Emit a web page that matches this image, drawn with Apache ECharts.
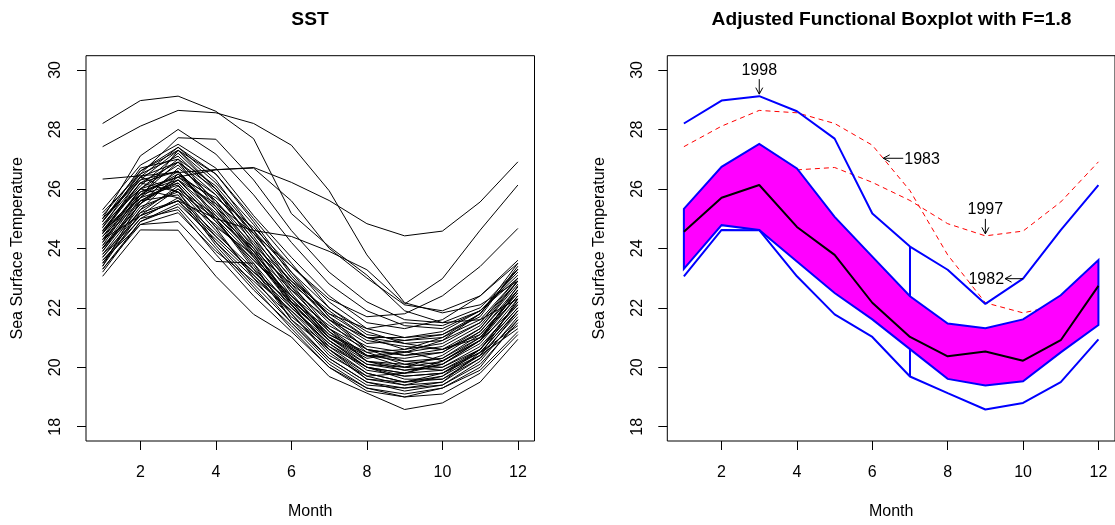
<!DOCTYPE html>
<html><head><meta charset="utf-8">
<script src="https://cdn.jsdelivr.net/npm/echarts@6/dist/echarts.min.js"></script>
<style>html,body{margin:0;padding:0;background:#fff}#c{width:1115px;height:525px}</style>
</head><body><div id="c"></div>
<script>
// ---------------- data ----------------
const months = [1,2,3,4,5,6,7,8,9,10,11,12];
const xTicks = [2,4,6,8,10,12];
const yTicks = [18,20,22,24,26,28,30];

// notable years
const sst1998 = [28.2, 28.97, 29.12, 28.61, 27.69, 25.17, 24.06, 23.1, 21.9, 21.5, 21.6, 22.3];
const sst1983 = [27.42, 28.11, 28.64, 28.56, 28.2, 27.47, 25.94, 23.78, 22.17, 21.83, 22.1, 22.9];
const sst1997 = [24.5, 25.9, 26.4, 26.64, 26.72, 26.22, 25.61, 24.83, 24.42, 24.58, 25.56, 26.91];
const sst1982 = [24.3, 25.1, 25.6, 25.0, 24.6, 24.4, 23.9, 23.28, 22.13, 22.98, 24.61, 26.13];

// remaining years
const sstOther = [
  [26.33, 26.44, 26.55, 26.65, 26.7, 25.6, 24.0, 23.0, 22.1, 21.9, 22.4, 23.5],
  [25.0, 27.11, 28.0, 27.17, 25.8, 24.2, 22.8, 21.9, 21.4, 21.3, 21.9, 23.0],
  [24.9, 26.5, 27.72, 27.67, 26.3, 24.6, 23.2, 22.2, 21.6, 21.5, 22.0, 23.3],
  [24.0, 25.5, 26.3, 25.5, 24.5, 23.4, 22.3, 21.7, 21.8, 22.4, 23.39, 24.67],
  [24.56, 25.7, 26.13, 24.72, 23.78, 22.17, 21.02, 20.37, 20.53, 20.22, 20.91, 22.74],
  [23.06, 24.62, 24.61, 23.06, 21.78, 21.02, 19.69, 19.13, 18.58, 18.8, 19.5, 20.94],
  [24.2, 25.8, 26.5, 25.3, 23.9, 22.3, 21.0, 20.1, 19.9, 20.1, 20.8, 22.3],
  [23.5, 25.3, 26.0, 24.6, 23.1, 21.8, 20.5, 19.6, 19.5, 19.7, 20.4, 21.8],
  [24.8, 26.3, 27.3, 26.2, 24.8, 23.1, 21.7, 20.6, 20.4, 20.6, 21.3, 22.8],
  [25.1, 26.6, 27.4, 26.5, 25.0, 23.5, 22.0, 21.1, 20.9, 21.0, 21.6, 23.0],
  [23.8, 25.4, 25.9, 24.2, 22.8, 21.5, 20.2, 19.4, 19.3, 19.4, 20.1, 21.5],
  [24.4, 26.0, 26.8, 25.6, 24.2, 22.6, 21.3, 20.4, 20.2, 20.3, 21.0, 22.6],
  [23.3, 24.9, 25.4, 24.0, 22.6, 21.4, 20.1, 19.3, 19.1, 19.3, 19.9, 21.2],
  [24.6, 26.2, 25.9, 25.0, 23.7, 22.4, 21.4, 20.7, 20.5, 20.7, 21.4, 22.9],
  [25.3, 26.8, 27.5, 26.7, 25.1, 23.7, 22.4, 21.5, 21.3, 21.6, 22.4, 23.6],
  [23.3, 24.8, 24.9, 23.56, 23.5, 21.6, 20.6, 19.6, 19.4, 19.5, 20.5, 21.4],
  [24.0, 25.6, 26.2, 24.9, 23.5, 22.0, 20.8, 20.0, 19.8, 19.9, 20.6, 22.0],
  [24.7, 26.2, 26.9, 25.8, 24.3, 22.9, 21.6, 20.8, 20.9, 21.1, 21.8, 23.3],
  [23.7, 25.1, 25.6, 24.4, 23.2, 22.0, 20.9, 20.1, 20.0, 20.2, 20.9, 22.4],
  [24.9, 26.7, 27.0, 25.5, 23.9, 22.2, 20.9, 20.0, 19.7, 19.8, 20.5, 21.9],
  [23.9, 25.5, 26.4, 25.4, 24.1, 22.9, 21.9, 21.0, 20.8, 20.9, 21.5, 22.9],
  [24.3, 25.6, 25.8, 24.1, 22.7, 21.3, 20.0, 19.2, 19.0, 19.3, 20.0, 21.6],
  [23.6, 25.0, 25.7, 24.8, 23.6, 22.3, 21.1, 20.4, 20.3, 20.5, 21.2, 22.6],
  [24.5, 26.4, 27.4, 26.3, 24.6, 22.8, 21.3, 20.2, 19.9, 20.0, 20.7, 22.1],
  [25.0, 26.3, 26.6, 25.1, 23.8, 22.6, 21.6, 21.0, 21.0, 21.2, 21.9, 23.1],
  [23.4, 25.2, 26.1, 24.7, 23.0, 21.5, 20.3, 19.5, 19.2, 19.4, 20.2, 21.7],
  [24.1, 25.9, 26.3, 25.2, 24.0, 22.7, 21.5, 20.5, 20.1, 20.0, 20.6, 22.2],
  [24.6, 26.1, 27.2, 26.0, 24.4, 22.7, 21.2, 20.2, 20.0, 20.4, 21.2, 22.7],
  [23.2, 24.9, 25.5, 24.3, 23.1, 21.9, 20.8, 19.9, 19.7, 19.8, 20.4, 21.3],
  [24.8, 26.0, 26.4, 25.7, 24.7, 23.4, 22.2, 21.3, 21.0, 21.1, 21.7, 23.4],
  [23.9, 25.7, 26.6, 25.3, 23.7, 22.1, 20.7, 19.8, 19.5, 19.8, 20.6, 22.0],
  [24.3, 26.0, 25.7, 24.5, 23.3, 22.1, 21.0, 20.2, 20.1, 20.3, 21.1, 22.5],
  [25.2, 26.5, 27.1, 25.9, 24.5, 23.0, 21.8, 21.3, 21.5, 21.4, 21.9, 23.2],
  [23.5, 25.0, 25.3, 23.8, 22.4, 21.2, 20.0, 19.3, 19.0, 19.1, 19.8, 21.1],
  [24.0, 25.5, 26.7, 25.8, 24.3, 22.5, 21.0, 20.3, 20.5, 20.9, 21.8, 23.3],
  [24.6, 25.8, 26.2, 24.9, 23.6, 22.4, 21.2, 20.4, 20.0, 19.9, 20.5, 21.9],
  [23.7, 25.3, 26.5, 25.6, 24.0, 22.2, 20.9, 20.0, 19.6, 19.6, 20.4, 22.3],
  [24.2, 26.0, 27.0, 26.1, 24.6, 23.2, 22.0, 21.2, 20.8, 20.6, 21.0, 22.4],
  [24.9, 26.4, 25.9, 24.4, 23.2, 22.2, 21.3, 20.6, 20.4, 20.5, 21.3, 22.9],
  [23.4, 25.6, 26.3, 25.0, 23.4, 21.8, 20.4, 19.7, 19.8, 20.2, 21.0, 22.4],
  [24.4, 25.7, 27.3, 26.5, 24.9, 23.2, 21.7, 20.9, 20.7, 20.6, 21.1, 22.5],
  [24.1, 25.2, 25.6, 24.2, 23.0, 21.9, 20.6, 19.8, 19.5, 19.6, 20.3, 21.6],
  [25.0, 26.4, 26.9, 25.4, 23.8, 22.1, 20.6, 19.7, 19.4, 19.7, 20.6, 22.2],
  [23.8, 25.1, 26.0, 25.1, 23.9, 22.8, 21.8, 21.0, 20.6, 20.8, 21.5, 23.0],
  [24.5, 26.2, 26.6, 25.0, 23.3, 21.6, 20.3, 19.5, 19.3, 19.5, 20.3, 21.9],
  [24.0, 25.8, 26.9, 26.0, 24.5, 23.0, 21.6, 20.6, 20.2, 20.1, 20.9, 22.6],
  [23.6, 24.8, 25.2, 23.9, 22.9, 21.7, 20.7, 20.0, 19.8, 20.1, 20.9, 22.1],
  [24.7, 26.6, 27.3, 26.0, 24.1, 22.4, 21.1, 20.5, 20.6, 21.0, 21.8, 23.5]
];

// functional boxplot summaries (right panel)
const fbMedian    = [24.56, 25.7, 26.13, 24.72, 23.78, 22.17, 21.02, 20.37, 20.53, 20.22, 20.91, 22.74];
const bandUpper   = [25.33, 26.74, 27.51, 26.69, 25.06, 23.72, 22.39, 21.47, 21.31, 21.61, 22.42, 23.61];
const bandLower   = [23.31, 24.78, 24.62, 23.56, 22.5, 21.61, 20.61, 19.61, 19.39, 19.53, 20.5, 21.42];
const whiskerHi   = [28.2, 28.97, 29.12, 28.61, 27.69, 25.17, 24.06, 23.28, 22.13, 22.98, 24.61, 26.13];
const whiskerLo   = [23.06, 24.62, 24.61, 23.06, 21.78, 21.02, 19.69, 19.13, 18.58, 18.8, 19.5, 20.94];
const outlierCurves = [sst1983, sst1997];

// annotation labels
const annoLabels = ['1998', '1983', '1997', '1982'];
const annoMonths = [3, 6.29, 9, 10];
const annoValues = [whiskerHi[2], 27.03, sst1997[8], sst1982[9]];
const annoKinds  = ['down', 'right', 'down', 'left'];

// ---------------- chart ----------------
const FONT = '"Liberation Sans", Arial, Helvetica, sans-serif';
const chart = echarts.init(document.getElementById('c'), null, {renderer: 'canvas'});
const toPts = arr => months.map((m, i) => [m, arr[i]]);

function xAxisCfg(gi) {
  return {
    type: 'value', gridIndex: gi, min: 0.56, max: 12.44,
    axisLine: {show: false}, splitLine: {show: false},
    axisTick: {show: true, inside: false, length: 9, customValues: xTicks, lineStyle: {color: '#000', width: 1}},
    axisLabel: {customValues: xTicks, margin: 24, fontSize: 16, color: '#000', fontFamily: FONT},
    name: 'Month', nameLocation: 'middle', nameGap: 63,
    nameTextStyle: {fontSize: 16, color: '#000', fontFamily: FONT}
  };
}
function yAxisCfg(gi) {
  return {
    type: 'value', gridIndex: gi, min: 17.52, max: 30.48,
    axisLine: {show: false}, splitLine: {show: false},
    axisTick: {show: true, inside: false, length: 9, customValues: yTicks, lineStyle: {color: '#000', width: 1}},
    axisLabel: {customValues: yTicks, rotate: 90, margin: 22, fontSize: 16, color: '#000', fontFamily: FONT},
    name: 'Sea Surface Temperature', nameLocation: 'middle', nameGap: 60,
    nameTextStyle: {fontSize: 16, color: '#000', fontFamily: FONT}
  };
}

const series = [];
const leftCurves = [sst1998, sst1983, sst1997, sst1982].concat(sstOther);
leftCurves.forEach(c => series.push({
  type: 'line', xAxisIndex: 0, yAxisIndex: 0, data: toPts(c), symbol: 'none',
  lineStyle: {color: '#000', width: 1}, z: 2, silent: true
}));

outlierCurves.forEach(c => series.push({
  type: 'line', xAxisIndex: 1, yAxisIndex: 1, data: toPts(c), symbol: 'none',
  lineStyle: {color: '#ff0000', width: 1, type: [5, 4]}, z: 2, silent: true
}));

// central region polygon
series.push({
  type: 'custom', xAxisIndex: 1, yAxisIndex: 1, z: 3, silent: true,
  data: [[1, bandUpper[0]]],
  renderItem: function (params, api) {
    const pts = [];
    months.forEach((m, i) => pts.push(api.coord([m, bandUpper[i]])));
    for (let i = months.length - 1; i >= 0; i--) pts.push(api.coord([months[i], bandLower[i]]));
    return {type: 'polygon', shape: {points: pts}, style: {fill: '#ff00ff', stroke: '#0000ff', lineWidth: 2}};
  }
});

[whiskerHi, whiskerLo].forEach(c => series.push({
  type: 'line', xAxisIndex: 1, yAxisIndex: 1, data: toPts(c), symbol: 'none',
  lineStyle: {color: '#0000ff', width: 2}, z: 4, silent: true
}));
// vertical whisker segments at the middle month
const midIdx = 6;
series.push({type: 'line', xAxisIndex: 1, yAxisIndex: 1, symbol: 'none', z: 4, silent: true,
  data: [[months[midIdx], whiskerHi[midIdx]], [months[midIdx], bandUpper[midIdx]]],
  lineStyle: {color: '#0000ff', width: 2}});
series.push({type: 'line', xAxisIndex: 1, yAxisIndex: 1, symbol: 'none', z: 4, silent: true,
  data: [[months[midIdx], bandLower[midIdx]], [months[midIdx], whiskerLo[midIdx]]],
  lineStyle: {color: '#0000ff', width: 2}});

series.push({
  type: 'line', xAxisIndex: 1, yAxisIndex: 1, data: toPts(fbMedian), symbol: 'none',
  lineStyle: {color: '#000', width: 2}, z: 5, silent: true
});

// annotations
series.push({
  type: 'custom', xAxisIndex: 1, yAxisIndex: 1, z: 6, silent: true, clip: false,
  data: annoMonths.map((m, i) => [m, annoValues[i]]),
  renderItem: function (params, api) {
    const i = params.dataIndex;
    const p = api.coord([annoMonths[i], annoValues[i]]);
    const kind = annoKinds[i];
    const ts = {fontFamily: FONT, fontSize: 16, fill: '#000', text: annoLabels[i]};
    const ls = {stroke: '#000', lineWidth: 1, fill: null};
    const ch = [];
    if (kind === 'down') {
      const tip = p[1] - 2, tail = tip - 15;
      ch.push({type: 'line', shape: {x1: p[0], y1: tail, x2: p[0], y2: tip}, style: ls});
      ch.push({type: 'polyline', shape: {points: [[p[0] - 3.5, tip - 6.5], [p[0], tip], [p[0] + 3.5, tip - 6.5]]}, style: ls});
      ch.push({type: 'text', style: Object.assign({x: p[0], y: tail - 1, align: 'center', verticalAlign: 'bottom'}, ts)});
    } else if (kind === 'right') {
      const tip = p[0], tail = p[0] + 20;
      ch.push({type: 'line', shape: {x1: tail, y1: p[1], x2: tip, y2: p[1]}, style: ls});
      ch.push({type: 'polyline', shape: {points: [[tip + 6.5, p[1] - 3.5], [tip, p[1]], [tip + 6.5, p[1] + 3.5]]}, style: ls});
      ch.push({type: 'text', style: Object.assign({x: tail + 1, y: p[1] + 1, align: 'left', verticalAlign: 'middle'}, ts)});
    } else {
      const tail = p[0], tip = p[0] - 18;
      ch.push({type: 'line', shape: {x1: tail, y1: p[1], x2: tip, y2: p[1]}, style: ls});
      ch.push({type: 'polyline', shape: {points: [[tip + 6.5, p[1] - 3.5], [tip, p[1]], [tip + 6.5, p[1] + 3.5]]}, style: ls});
      ch.push({type: 'text', style: Object.assign({x: tip - 1, y: p[1] + 1, align: 'right', verticalAlign: 'middle'}, ts)});
    }
    return {type: 'group', children: ch};
  }
});

chart.setOption({
  animation: false,
  backgroundColor: '#fff',
  grid: [
    {left: 86, top: 55.7, width: 448.5, height: 388.8, show: true, borderColor: '#000', borderWidth: 1, backgroundColor: 'transparent'},
    {left: 667.3, top: 55.7, width: 448.5, height: 388.8, show: true, borderColor: '#000', borderWidth: 1, backgroundColor: 'transparent'}
  ],
  xAxis: [xAxisCfg(0), xAxisCfg(1)],
  yAxis: [yAxisCfg(0), yAxisCfg(1)],
  graphic: [
    {type: 'text', x: 310, y: 20, style: {text: 'SST', align: 'center', verticalAlign: 'middle', font: 'bold 19.2px ' + FONT, fill: '#000'}},
    {type: 'text', x: 891.5, y: 20, style: {text: 'Adjusted Functional Boxplot with F=1.8', align: 'center', verticalAlign: 'middle', font: 'bold 19.2px ' + FONT, fill: '#000'}}
  ],
  series: series
});
</script>
</body></html>
